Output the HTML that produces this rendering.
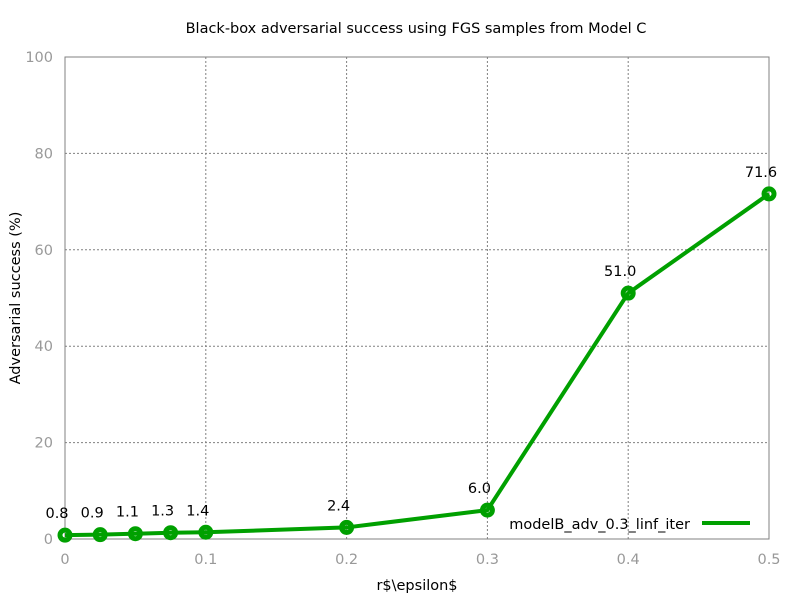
<!DOCTYPE html>
<html><head><meta charset="utf-8"><style>
body{margin:0;background:#fff}
svg text{font-family:"DejaVu Sans","Liberation Sans",sans-serif}
</style></head><body>
<svg id="c" width="800" height="600" xmlns="http://www.w3.org/2000/svg">
<rect width="800" height="600" fill="#fff"/>
<g id="grid"></g>
<rect x="65" y="57" width="704" height="482" fill="none" stroke="#808080" stroke-width="1"/>
<g id="ticks"></g>
<g id="series"></g>
<text x="416" y="33" text-anchor="middle" font-size="14.5" fill="#000">Black-box adversarial success using FGS samples from Model C</text>
<text x="417" y="590" text-anchor="middle" font-size="14.5" fill="#000">r$\epsilon$</text>
<text transform="translate(20,298) rotate(-90)" text-anchor="middle" font-size="14.5" fill="#000">Adversarial success (%)</text>
<g>
<text x="690" y="529" text-anchor="end" font-size="14.5" fill="#000">modelB_adv_0.3_linf_iter</text>
<line x1="702" y1="523" x2="750" y2="523" stroke="#00a000" stroke-width="4"/>
</g>
</svg>
<script>
const xs=[0,0.025,0.05,0.075,0.1,0.2,0.3,0.4,0.5];
const ys=[0.8,0.9,1.1,1.3,1.4,2.4,6.0,51.0,71.6];
const labels=["0.8","0.9","1.1","1.3","1.4","2.4","6.0","51.0","71.6"];
const xTicks=[0,0.1,0.2,0.3,0.4,0.5];
const xTickLabels=["0","0.1","0.2","0.3","0.4","0.5"];
const yTicks=[0,20,40,60,80,100];
const NS="http://www.w3.org/2000/svg";
const X=v=>65+v/0.5*704, Y=v=>539-v/100*482;
function mk(t,a,p){const e=document.createElementNS(NS,t);for(const k in a)e.setAttribute(k,a[k]);p.appendChild(e);return e;}
const g=document.getElementById('grid'),tk=document.getElementById('ticks'),s=document.getElementById('series');
xTicks.forEach((v,i)=>{
 if(i>0&&i<xTicks.length-1){const l=mk('line',{x1:X(v),x2:X(v),y1:57,y2:539,stroke:'#808080','stroke-dasharray':'2,2'},g);
 
 }
 const t=mk('text',{x:X(v),y:564,'text-anchor':'middle','font-size':14.5,fill:'#999'},tk);t.textContent=xTickLabels[i];
 
 
});
yTicks.forEach(v=>{
 if(v>0&&v<100){const l=mk('line',{x1:65,x2:769,y1:Y(v),y2:Y(v),stroke:'#808080','stroke-dasharray':'2,2'},g);
 
 }
 const t=mk('text',{x:53,y:Y(v)+5,'text-anchor':'end','font-size':14.5,fill:'#999'},tk);t.textContent=v;
 
 
});
const pl=mk('polyline',{points:xs.map((x,i)=>X(x)+','+Y(ys[i])).join(' '),fill:'none',stroke:'#00a000','stroke-width':4},s);


xs.forEach((x,i)=>{
 const c=mk('circle',{cx:X(x),cy:Y(ys[i]),r:5,fill:'none',stroke:'#00a000','stroke-width':5},s);
 
 
 const t=mk('text',{x:X(x)-8,y:Y(ys[i])-17,'text-anchor':'middle','font-size':14.5,fill:'#000'},s);t.textContent=labels[i];
 
 
});
</script>
</body></html>
